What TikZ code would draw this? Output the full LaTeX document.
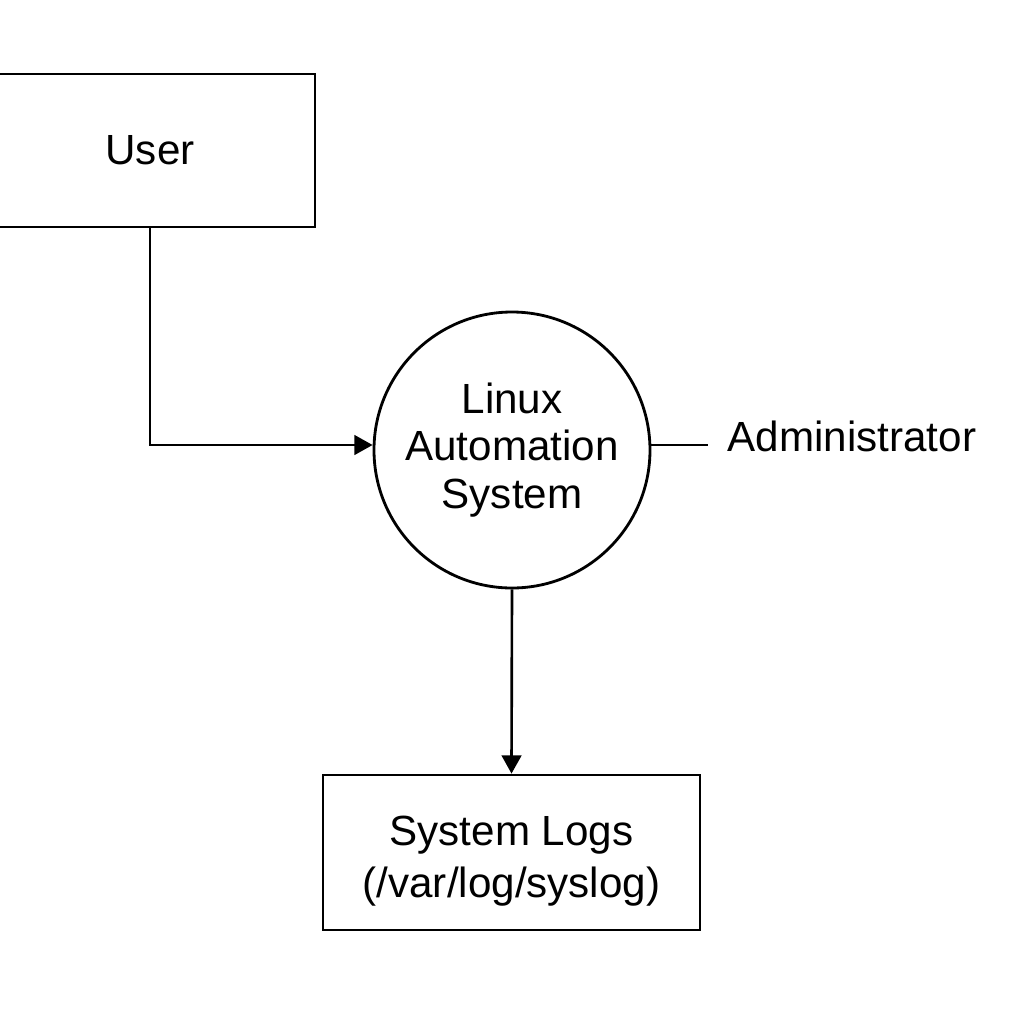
\documentclass[tikz,border=0pt]{standalone}
\usepackage{fontspec}
\setmainfont{Liberation Sans}
\usetikzlibrary{positioning,arrows.meta}

\begin{document}
\begin{tikzpicture}[
  entity/.style={draw=black,line width=0.8pt,align=center,
    font=\fontsize{12}{14.8}\selectfont},
  process/.style={draw=black,line width=0.8pt,circle,minimum size=2.76cm,
    align=center,inner sep=0pt,font=\fontsize{12}{13.6}\selectfont},
  flow/.style={-{Triangle[length=5.2pt,width=5.6pt]},draw=black,line width=0.75pt}]
\useasboundingbox (0,0) rectangle (10.24,-10.24);
\node[entity,minimum width=3.3cm,minimum height=1.53cm] (user) at (1.5,-1.505) {User};
\node[process] (lin) at (5.12,-4.5) {Linux\\Automation\\System};
\node[inner sep=0pt,font=\fontsize{12}{14.5}\selectfont,anchor=west] (admin) at (7.27,-4.36) {Administrator};
\node[entity,minimum width=3.77cm,minimum height=1.55cm] (logs) at (5.115,-8.525) {\rule{0pt}{13.2pt}System Logs\\(/var/log/syslog)};
\draw[flow] (user.south) |- ([yshift=0.05cm]lin.west);
\draw[flow] (lin.south) -- (logs.north);
\draw[line width=0.75pt,shorten >=0.19cm] ([yshift=0.05cm]lin.east) -- ([yshift=0.05cm]lin.east -| admin.west);
\end{tikzpicture}
\end{document}
